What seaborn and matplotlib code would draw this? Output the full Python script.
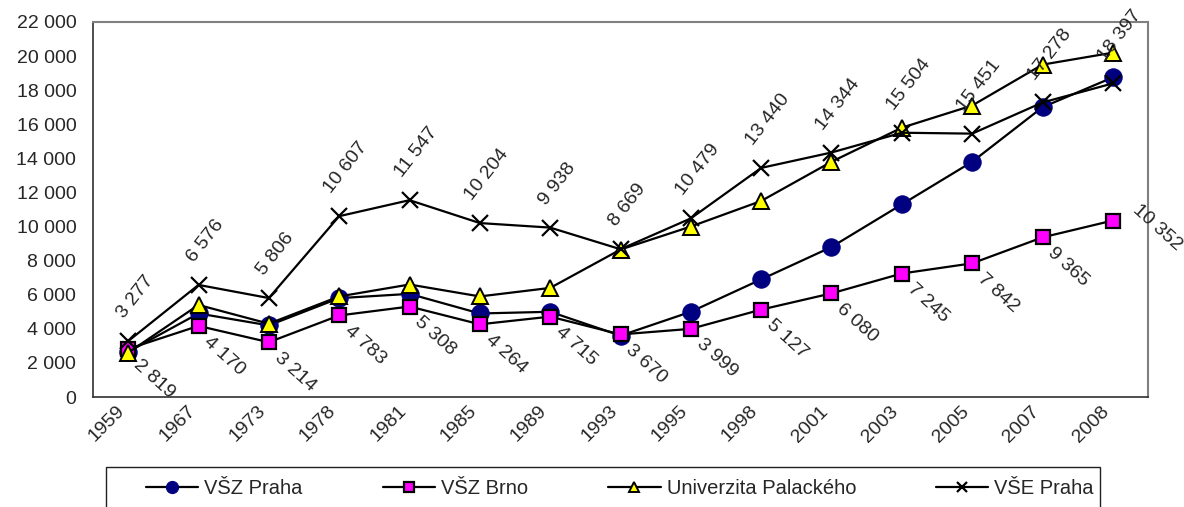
import matplotlib
matplotlib.use('Agg')
import matplotlib.pyplot as plt
from matplotlib.patches import Rectangle
from matplotlib.ticker import FixedLocator, FuncFormatter
import seaborn as sns

# values
years = ['1959', '1967', '1973', '1978', '1981', '1985', '1989', '1993',
         '1995', '1998', '2001', '2003', '2005', '2007', '2008']
vsz_praha = [2650, 4900, 4200, 5800, 6050, 4900, 5000, 3600,
             5000, 6900, 8800, 11300, 13800, 17000, 18750]
vsz_brno = [2819, 4170, 3214, 4783, 5308, 4264, 4715, 3670,
            3999, 5127, 6080, 7245, 7842, 9365, 10352]
palackeho = [2600, 5400, 4300, 5900, 6600, 5900, 6400, 8650,
             10000, 11500, 13800, 15800, 17100, 19500, 20200]
vse_praha = [3277, 6576, 5806, 10607, 11547, 10204, 9938, 8669,
             10479, 13440, 14344, 15504, 15451, 17278, 18397]
labels = ['VŠZ Praha', 'VŠZ Brno', 'Univerzita Palackého', 'VŠE Praha']


def fmt(v):
    return f'{v:,.0f}'.replace(',', ' ')


sns.set_style('white')
plt.rcParams['font.family'] = ['Liberation Sans', 'DejaVu Sans']

W, H = 1184, 507
fig = plt.figure(figsize=(W / 100, H / 100), dpi=100)
ax = fig.add_axes([93 / W, 1 - 397 / H, (1148 - 93) / W, (397 - 22) / H])

common = dict(color='black', linewidth=1.6, ax=ax)
sns.lineplot(x=years, y=vsz_praha, marker='o', markersize=12.5,
             markerfacecolor='#000080', markeredgecolor='#000080',
             label=labels[0], **common)
sns.lineplot(x=years, y=vsz_brno, marker='s', markersize=10,
             markerfacecolor='#ff00ff', markeredgecolor='black',
             markeredgewidth=1.6, label=labels[1], **common)
sns.lineplot(x=years, y=palackeho, marker='^', markersize=11,
             markerfacecolor='#ffff00', markeredgecolor='black',
             markeredgewidth=1.4, label=labels[2], **common)
sns.lineplot(x=years, y=vse_praha, marker='x', markersize=11,
             markeredgecolor='black', markeredgewidth=1.6,
             label=labels[3], **common)

# data labels: VŠE above, VŠZ Brno below
for i, v in enumerate(vse_praha):
    ax.annotate(fmt(v), (i, v), xytext=(5, 14), textcoords='offset points',
                ha='center', va='bottom', rotation=52, fontsize=14)
for i, v in enumerate(vsz_brno):
    off = (12, 14) if i == len(vsz_brno) - 1 else (1.5, -5)
    ax.annotate(fmt(v), (i, v), xytext=off, textcoords='offset points',
                ha='left', va='top', rotation=-42, fontsize=14)

ax.set_xlim(-0.5, len(years) - 0.5)
ax.set_ylim(0, 22000)
ax.set_yticks(range(0, 22001, 2000))
ax.yaxis.set_major_formatter(FuncFormatter(lambda v, p: fmt(v)))
ax.set_xticks(range(len(years)))
ax.set_xticklabels(years, rotation=45, ha='right')
ax.xaxis.set_minor_locator(FixedLocator([i - 0.5 for i in range(len(years) + 1)]))
ax.tick_params(axis='x', which='major', length=0, pad=4, labelsize=14)
ax.tick_params(axis='x', which='minor', length=5, width=1, color='#303030', direction='out')
ax.tick_params(axis='y', length=5, width=1, color='#303030', direction='out', labelsize=14, pad=7)
ax.set_xlabel('')
ax.set_ylabel('')
ax.grid(False)

for side in ['left', 'bottom']:
    ax.spines[side].set_color('#303030')
    ax.spines[side].set_linewidth(1.2)
for side in ['top', 'right']:
    ax.spines[side].set_color('#808080')
    ax.spines[side].set_linewidth(1.5)

handles, lbls = ax.get_legend_handles_labels()
if ax.get_legend() is not None:
    ax.get_legend().remove()
fig.legend(handles, lbls, loc='center left',
           bbox_to_anchor=(146 / W, 1 - 489 / H, (1094 - 146) / W, 0),
           mode='expand', ncol=4, fontsize=14.5, frameon=False,
           handlelength=2.6, handletextpad=0.3, borderpad=0,
           borderaxespad=0, markerscale=0.7)
# legend box, bottom edge runs off the image like in the reference
fig.patches.append(Rectangle((106 / W, -0.05), (1100 - 106) / W, 0.05 + 40 / H,
                             transform=fig.transFigure, fill=False,
                             edgecolor='#202020', linewidth=1.0))

fig.savefig('out.png', dpi=100)
